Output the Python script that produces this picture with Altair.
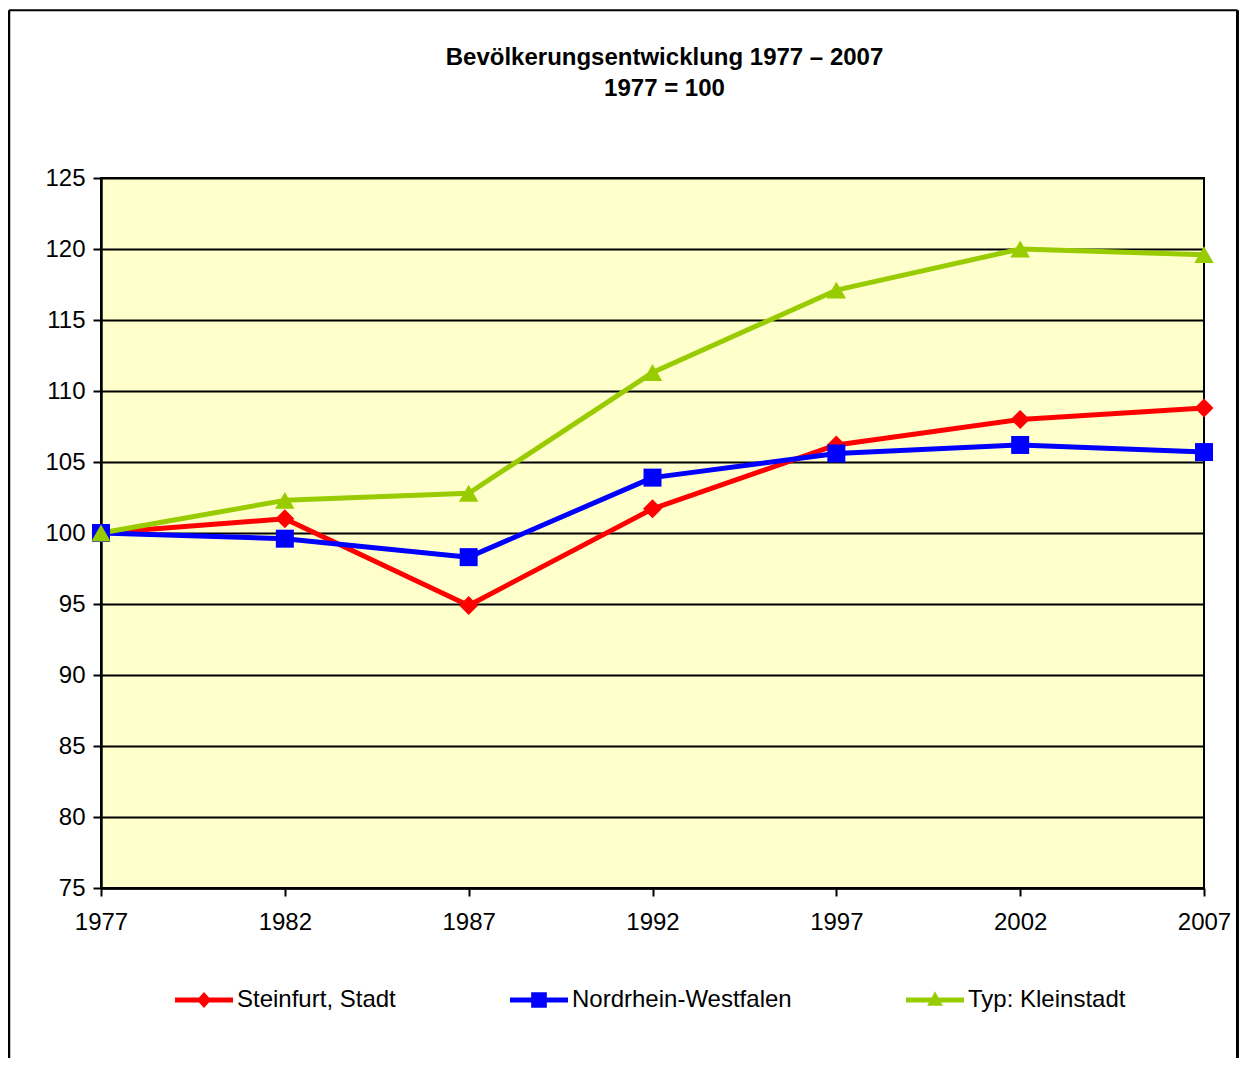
import altair as alt
import pandas as pd

# ---- data ----
years = [1977, 1982, 1987, 1992, 1997, 2002, 2007]
steinfurt = [100.0, 101.0, 94.9, 101.7, 106.2, 108.0, 108.8]
nrw = [100.0, 99.6, 98.3, 103.9, 105.6, 106.2, 105.7]
kleinstadt = [100.0, 102.3, 102.8, 111.3, 117.1, 120.0, 119.6]
series_names = ["Steinfurt, Stadt", "Nordrhein-Westfalen", "Typ: Kleinstadt"]
y_ticks = [75, 80, 85, 90, 95, 100, 105, 110, 115, 120, 125]
title_lines = ["Bevölkerungsentwicklung 1977 \u2013 2007", "1977 = 100"]

# ---- styles ----
colors = ["#FF0000", "#0000FF", "#99CC00"]
shapes = ["diamond", "square", "triangle-up"]
sizes = [361, 324, 380]
bar = "M-1,-0.086H1V0.086H-1Z "
legend_paths = [
    bar + "M0,-0.28L0.25,0L0,0.28L-0.25,0Z",
    bar + "M-0.27,-0.27H0.27V0.27H-0.27Z",
    bar + "M0,-0.3L0.27,0.2L-0.27,0.2Z",
]
FONT = "Liberation Sans"
W, H = 1103, 710

rows = []
for name, vals in zip(series_names, [steinfurt, nrw, kleinstadt]):
    for yr, v in zip(years, vals):
        rows.append({"Jahr": yr, "Wert": v, "Reihe": name})
df = pd.DataFrame(rows)

x_enc = alt.X(
    "Jahr:Q",
    scale=alt.Scale(domain=[1977, 2007], nice=False, zero=False),
    axis=alt.Axis(values=years, format="d", title=None, grid=False,
                  tickSize=8, labelPadding=14, labelFlush=False,
                  labelOverlap=False),
)
y_enc = alt.Y(
    "Wert:Q",
    scale=alt.Scale(domain=[75, 125], nice=False, zero=False),
    axis=alt.Axis(values=y_ticks, title=None, grid=True, tickSize=8,
                  labelPadding=8),
)
color_scale = alt.Scale(domain=series_names, range=colors)

line_layers = []
point_layers = []
for name, col, shp, sz in zip(series_names, colors, shapes, sizes):
    base = alt.Chart(df).transform_filter(alt.datum.Reihe == name)
    line_layers.append(
        base.mark_line(strokeWidth=5, strokeJoin="round", color=col)
        .encode(x=x_enc, y=y_enc)
    )
    point_layers.append(
        base.mark_point(filled=True, opacity=1, shape=shp, size=sz, color=col)
        .encode(x=x_enc, y=y_enc)
    )

leg = alt.Legend(
    orient="none", legendX=74, legendY=793, direction="horizontal",
    title=None, symbolSize=3364, symbolStrokeWidth=0, symbolOpacity=1,
    labelFont=FONT, labelFontSize=24, labelColor="black", labelOffset=4,
    columnPadding=114, padding=0, labelLimit=0,
)
legend_layer = alt.Chart(df).mark_point(filled=True, opacity=0).encode(
    x=x_enc, y=y_enc,
    color=alt.Color("Reihe:N", scale=color_scale, legend=leg),
    shape=alt.Shape("Reihe:N", scale=alt.Scale(domain=series_names, range=legend_paths), legend=leg),
)

one = pd.DataFrame({"k": [0]})
left_border = alt.Chart(one).mark_rule(color="black", strokeWidth=2.5).encode(
    x=alt.value(-92), y=alt.value(-167.7), y2=alt.value(900))
right_border = alt.Chart(one).mark_rule(color="black", strokeWidth=3).encode(
    x=alt.value(1136.5), y=alt.value(-167.7), y2=alt.value(900))
top_border = alt.Chart(one).mark_rule(color="black", strokeWidth=2).encode(
    x=alt.value(-92), x2=alt.value(1136.5), y=alt.value(-167.7))

chart = alt.layer(*line_layers, *point_layers, legend_layer,
                  left_border, right_border, top_border).properties(
    width=W, height=H,
    title=alt.TitleParams(text=title_lines, font=FONT, fontSize=24, fontWeight="bold",
                          color="black", anchor="middle", frame="group", offset=0,
                          dx=12, dy=92, lineHeight=31),
    autosize=alt.AutoSizeParams(type="none"),
    padding={"left": 93, "top": 170, "right": 35, "bottom": 170},
    background="white",
).configure_view(
    fill="#FFFFCC", stroke="black", strokeWidth=2,
).configure_axis(
    labelFont=FONT, labelFontSize=24, labelColor="black",
    domainColor="black", domainWidth=2.5, tickColor="black", tickWidth=2,
    gridColor="black", gridWidth=2, gridOpacity=1,
)

chart.save("out.html", embed_options={"renderer": "svg", "actions": False})
